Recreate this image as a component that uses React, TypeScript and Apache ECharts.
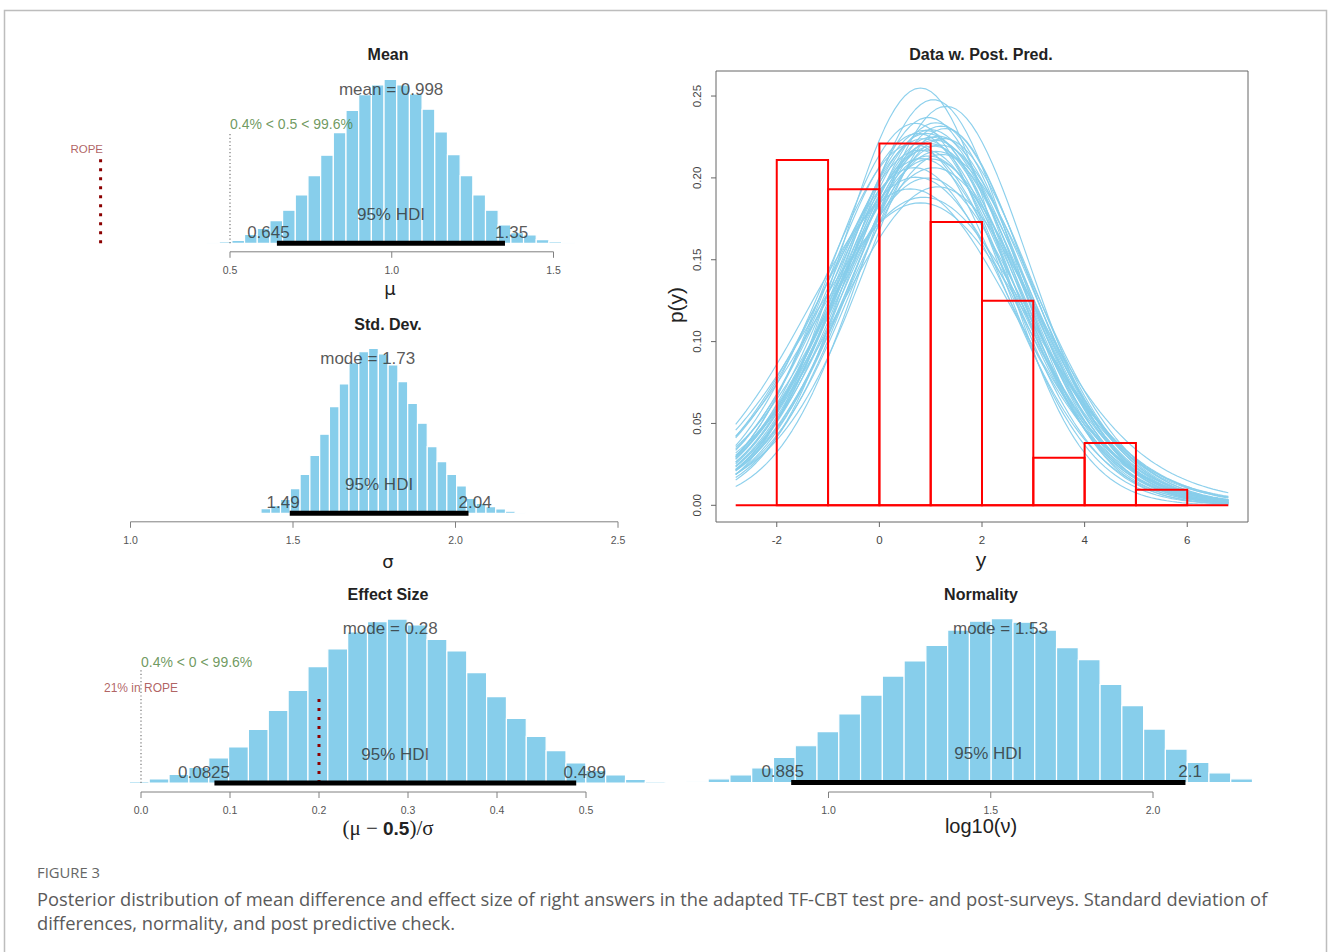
import React, { useEffect, useRef } from "react";
import * as echarts from "echarts";

// ---------------- DATA ----------------
// Mean panel (mu)
const meanBinStart = 0.4274;
const meanBinWidth = 0.0392;
const meanDensity = [0.009, 0.022, 0.04, 0.121, 0.201, 0.304, 0.443, 0.648, 0.908, 1.181, 1.485, 1.784, 1.995, 2.124, 2.2, 2.124, 2.003, 1.798, 1.494, 1.19, 0.908, 0.648, 0.443, 0.246, 0.143, 0.112, 0.049, 0.022, 0.009];
const meanHDI = [0.645, 1.35];
const meanHDILabels = ["0.645", "1.35"];
const meanCentral = 0.998;
const meanCentralLabel = "mean = 0.998";
const meanCompVal = 0.5;
const meanCompHeight = 1.49;
const meanCompLabel = "0.4% < 0.5 < 99.6%";
const meanRopeLine = 0.1;
const meanRopeHeight = 1.15;
const meanRopeTextX = 0.057;
const meanRopeLabel = "ROPE";
const meanTicks = [0.5, 1.0, 1.5];

// Std. Dev. panel (sigma)
const sdBinStart = 1.3713;
const sdBinWidth = 0.0301;
const sdDensity = [0.017, 0.081, 0.132, 0.242, 0.426, 0.674, 1.002, 1.365, 1.843, 2.234, 2.603, 2.793, 2.85, 2.752, 2.562, 2.274, 1.9, 1.555, 1.152, 0.892, 0.674, 0.472, 0.259, 0.173, 0.115, 0.075, 0.035, 0.017];
const sdHDI = [1.49, 2.04];
const sdHDILabels = ["1.49", "2.04"];
const sdMode = 1.73;
const sdModeLabel = "mode = 1.73";
const sdTicks = [1.0, 1.5, 2.0, 2.5];

// Effect size panel
const esBinStart = -0.0354;
const esBinWidth = 0.0223;
const esDensity = [0.016, 0.039, 0.094, 0.203, 0.367, 0.585, 0.843, 1.257, 1.701, 2.17, 2.724, 3.138, 3.536, 3.778, 3.84, 3.7, 3.364, 3.091, 2.583, 2.021, 1.514, 1.093, 0.757, 0.468, 0.297, 0.187, 0.086, 0.031];
const esHDI = [0.0825, 0.489];
const esHDILabels = ["0.0825", "0.489"];
const esMode = 0.28;
const esModeLabel = "mode = 0.28";
const esCompVal = 0;
const esCompHeight = 2.65;
const esCompLabel = "0.4% < 0 < 99.6%";
const esRopeLine = 0.2;
const esRopeHeight = 1.97;
const esRopeTextX = 0.0;
const esRopeLabel = "21% in ROPE";
const esTicks = [0.0, 0.1, 0.2, 0.3, 0.4, 0.5];

// Normality panel (log10 nu)
const nuBinStart = 0.562;
const nuBinWidth = 0.0671;
const nuDensity = [0.005, 0.029, 0.06, 0.115, 0.198, 0.289, 0.401, 0.539, 0.688, 0.837, 0.956, 1.079, 1.199, 1.269, 1.29, 1.261, 1.199, 1.061, 0.967, 0.771, 0.605, 0.42, 0.263, 0.159, 0.076, 0.029];
const nuHDI = [0.885, 2.1];
const nuHDILabels = ["0.885", "2.1"];
const nuMode = 1.53;
const nuModeLabel = "mode = 1.53";
const nuTicks = [1.0, 1.5, 2.0];

// Data w. Post. Pred. panel
const dataBinEdges = [-2, -1, 0, 1, 2, 3, 4, 5, 6];
const dataDensity = [0.211, 0.193, 0.221, 0.173, 0.125, 0.029, 0.038, 0.0095];
const dataRange = [-2.8, 6.8];
const ppMu = [0.8, 1.05, 1.3, 0.95, 1.1, 0.7, 1.2, 0.88, 1.0, 0.92, 1.15, 0.75, 1.02, 1.25, 0.85, 0.98, 1.08, 0.65, 1.18, 0.9, 1.04, 0.78, 1.12, 0.96, 1.22, 0.82, 1.0, 0.68, 1.06, 0.94, 0.72, 1.14, 0.6, 0.86, 0.8, 1.28];
const ppSigma = [1.56, 1.6, 1.63, 1.67, 1.69, 1.7, 1.71, 1.72, 1.73, 1.74, 1.74, 1.75, 1.76, 1.76, 1.77, 1.78, 1.78, 1.79, 1.8, 1.8, 1.81, 1.82, 1.83, 1.84, 1.85, 1.86, 1.88, 1.9, 1.92, 1.95, 1.98, 2.0, 2.05, 2.1, 2.15, 1.68];
const ppNu = [80, 40, 60, 30, 25, 45, 35, 20, 50, 28, 15, 70, 32, 22, 40, 18, 55, 26, 36, 12, 65, 24, 30, 16, 42, 20, 90, 14, 33, 11, 48, 10, 38, 27, 60, 8];
const ppXTicks = [-2, 0, 2, 4, 6];
const ppYTicks = [0, 0.05, 0.1, 0.15, 0.2, 0.25];

const captionLabel = "FIGURE 3";
const captionLine1 = "Posterior distribution of mean difference and effect size of right answers in the adapted TF-CBT test pre- and post-surveys. Standard deviation of";
const captionLine2 = "differences, normality, and post predictive check.";

// ---------------- STYLE / LAYOUT ----------------
const FONT = '"Liberation Sans", Arial, sans-serif';
const SKY = "#87CEEB";
const TXT = "#2e2e2e";
const GREEN = "#4b8036";
const ROPE_TXT = "#9c3a3a";
const ROPE_LINE = "#8B0000";

type Geom = { x0Val: number; x0Px: number; pxPerX: number; xMin: number; xMax: number; basePx: number; pxPerY: number; yMax: number };
const meanGeom: Geom = { x0Val: 0.5, x0Px: 230, pxPerX: 323.5, xMin: 0.0, xMax: 1.62, basePx: 243.3, pxPerY: 74.55, yMax: 2.4 };
const sdGeom: Geom = { x0Val: 1.5, x0Px: 293, pxPerX: 325, xMin: 0.95, xMax: 2.55, basePx: 513.3, pxPerY: 57.9, yMax: 3.1 };
const esGeom: Geom = { x0Val: 0, x0Px: 141, pxPerX: 890, xMin: -0.06, xMax: 0.6, basePx: 783, pxPerY: 42.7, yMax: 4.2 };
const nuGeom: Geom = { x0Val: 1.0, x0Px: 828.5, pxPerX: 324.5, xMin: 0.5, xMax: 2.35, basePx: 782.5, pxPerY: 127.1, yMax: 1.4 };
const ppBox = { left: 716, top: 71, width: 532, height: 451, xMin: -3.184, xMax: 7.184, yMin: -0.0102, yMax: 0.2653 };

function measure(text: string, size: number, family: string, weight = "normal") {
  const c = document.createElement("canvas").getContext("2d")!;
  c.font = `${weight} ${size}px ${family}`;
  return c.measureText(text).width;
}

function gridOf(g: Geom) {
  return {
    left: g.x0Px + (g.xMin - g.x0Val) * g.pxPerX,
    width: (g.xMax - g.xMin) * g.pxPerX,
    top: g.basePx - g.yMax * g.pxPerY,
    height: g.yMax * g.pxPerY,
    show: false,
    containLabel: false,
    outerBoundsMode: "none",
  };
}

function histSeries(gi: number, start: number, width: number, dens: number[]) {
  return {
    type: "custom",
    xAxisIndex: gi,
    yAxisIndex: gi,
    silent: true,
    clip: false,
    z: 2,
    data: dens.map((d, i) => [start + i * width, start + (i + 1) * width, d]),
    encode: { x: [0, 1], y: 2 },
    renderItem: (_p: any, api: any) => {
      const a = api.coord([api.value(0), api.value(2)]);
      const b = api.coord([api.value(1), 0]);
      return {
        type: "rect",
        shape: { x: a[0], y: a[1], width: b[0] - a[0], height: b[1] - a[1] },
        style: { fill: SKY, stroke: "#ffffff", lineWidth: 1.2 },
      };
    },
  };
}

function segSeries(gi: number, pts: number[][], color: string, width: number, type: any, z = 4) {
  return {
    type: "line",
    xAxisIndex: gi,
    yAxisIndex: gi,
    data: pts,
    symbol: "none",
    clip: false,
    silent: true,
    z,
    lineStyle: { color, width, type, cap: "butt" },
  };
}

type Lbl = { x: number; y: number; text: string; dx?: number; dy?: number; color?: string; size?: number; align?: string };
function labelSeries(gi: number, items: Lbl[]) {
  return {
    type: "scatter",
    xAxisIndex: gi,
    yAxisIndex: gi,
    symbolSize: 1,
    silent: true,
    z: 6,
    itemStyle: { color: "rgba(0,0,0,0)" },
    data: items.map((it) => ({
      value: [it.x, it.y],
      label: {
        show: true,
        position: "inside",
        formatter: it.text,
        offset: [it.dx || 0, it.dy || 0],
        color: it.color || TXT,
        fontSize: it.size || 17,
        fontFamily: FONT,
        align: it.align || "center",
        verticalAlign: "middle",
      },
    })),
  };
}

function hdiLabels(hdi: number[], labels: string[], centralX: number, centralLabel: string, peak: number): Lbl[] {
  const s = 17;
  const w0 = measure(labels[0], s, FONT);
  const w1 = measure(labels[1], s, FONT);
  return [
    { x: hdi[0], y: 0, text: labels[0], dx: -0.2 * w0, dy: -11, size: s },
    { x: hdi[1], y: 0, text: labels[1], dx: 0.2 * w1, dy: -11, size: s },
    { x: (hdi[0] + hdi[1]) / 2, y: 0, text: "95% HDI", dy: -29, size: 17 },
    { x: centralX, y: 0.9 * peak, text: centralLabel, dy: -6.5, size: 17 },
  ];
}

function rAxisBottom(gi: number, ticks: number[], dec: number, o: any) {
  return {
    type: "custom",
    xAxisIndex: gi,
    yAxisIndex: gi,
    silent: true,
    clip: false,
    z: 3,
    data: ticks.map((t) => [t, o.yRef]),
    encode: { x: 0, y: 1 },
    renderItem: (params: any, api: any) => {
      const v = api.value(0);
      const p = api.coord([v, api.value(1)]);
      const y0 = p[1] + o.offset;
      const ch: any[] = [
        { type: "line", shape: { x1: p[0], y1: y0, x2: p[0], y2: y0 + o.tickLen }, style: { stroke: o.color, lineWidth: 1 } },
        {
          type: "text",
          x: p[0],
          y: y0 + o.labelDy,
          style: { text: v.toFixed(dec), align: "center", verticalAlign: "middle", textAlign: "center", textVerticalAlign: "middle", fill: o.labelColor, fontSize: o.fontSize, fontFamily: FONT },
        },
      ];
      if (o.line && params.dataIndex === 0) {
        const q = api.coord([ticks[ticks.length - 1], api.value(1)]);
        ch.push({ type: "line", shape: { x1: p[0], y1: y0, x2: q[0], y2: y0 }, style: { stroke: o.color, lineWidth: 1 } });
      }
      return { type: "group", children: ch };
    },
  };
}

function rAxisLeft(gi: number, ticks: number[], dec: number, o: any) {
  return {
    type: "custom",
    xAxisIndex: gi,
    yAxisIndex: gi,
    silent: true,
    clip: false,
    z: 3,
    data: ticks.map((t) => [o.xRef, t]),
    encode: { x: 0, y: 1 },
    renderItem: (_params: any, api: any) => {
      const v = api.value(1);
      const p = api.coord([api.value(0), v]);
      return {
        type: "group",
        children: [
          { type: "line", shape: { x1: p[0], y1: p[1], x2: p[0] - o.tickLen, y2: p[1] }, style: { stroke: o.color, lineWidth: 1 } },
          {
            type: "text",
            x: p[0] - o.labelDx,
            y: p[1],
            rotation: Math.PI / 2,
            style: { text: v.toFixed(dec), align: "center", verticalAlign: "middle", textAlign: "center", textVerticalAlign: "middle", fill: o.labelColor, fontSize: o.fontSize, fontFamily: FONT },
          },
        ],
      };
    },
  };
}

function lgamma(z: number): number {
  const c = [0.99999999999980993, 676.5203681218851, -1259.1392167224028, 771.32342877765313, -176.61502916214059, 12.507343278686905, -0.13857109526572012, 9.9843695780195716e-6, 1.5056327351493116e-7];
  if (z < 0.5) return Math.log(Math.PI / Math.sin(Math.PI * z)) - lgamma(1 - z);
  z -= 1;
  let x = c[0];
  for (let i = 1; i < 9; i++) x += c[i] / (z + i);
  const t = z + 7.5;
  return 0.5 * Math.log(2 * Math.PI) + (z + 0.5) * Math.log(t) - t + Math.log(x);
}
function dt(x: number, mu: number, sigma: number, nu: number) {
  const z = (x - mu) / sigma;
  return Math.exp(lgamma((nu + 1) / 2) - lgamma(nu / 2) - 0.5 * Math.log(nu * Math.PI) - Math.log(sigma) - ((nu + 1) / 2) * Math.log(1 + (z * z) / nu));
}

function buildOption() {
  const geoms = [meanGeom, sdGeom, esGeom, nuGeom];
  const grids: any[] = geoms.map(gridOf);
  grids.push({ left: ppBox.left, top: ppBox.top, width: ppBox.width, height: ppBox.height, show: true, borderColor: "#666", borderWidth: 1, backgroundColor: "transparent", containLabel: false, outerBoundsMode: "none" });
  const xAxes: any[] = geoms.map((g, i) => ({ gridIndex: i, type: "value", min: g.xMin, max: g.xMax, show: false }));
  const yAxes: any[] = geoms.map((g, i) => ({ gridIndex: i, type: "value", min: 0, max: g.yMax, show: false }));
  xAxes.push({ gridIndex: 4, type: "value", min: ppBox.xMin, max: ppBox.xMax, show: false });
  yAxes.push({ gridIndex: 4, type: "value", min: ppBox.yMin, max: ppBox.yMax, show: false });

  const axisOpt = { yRef: 0, offset: 8.5, tickLen: 6, labelDy: 18, color: "#808080", labelColor: "#555", fontSize: 10.5, line: true };
  const dotRope: any = [3, 6];
  const dotGray: any = [1.2, 2.4];

  const series: any[] = [];
  // Mean
  series.push(histSeries(0, meanBinStart, meanBinWidth, meanDensity));
  series.push(segSeries(0, [[meanHDI[0], 0], [meanHDI[1], 0]], "#000", 5, "solid", 5));
  series.push(segSeries(0, [[meanCompVal, 0], [meanCompVal, meanCompHeight]], "#777", 1.2, dotGray));
  series.push(segSeries(0, [[meanRopeLine, 0], [meanRopeLine, meanRopeHeight]], ROPE_LINE, 3, dotRope));
  series.push(labelSeries(0, [
    ...hdiLabels(meanHDI, meanHDILabels, meanCentral, meanCentralLabel, Math.max(...meanDensity)),
    { x: meanCompVal, y: meanCompHeight, text: meanCompLabel, dy: -8, size: 14, color: GREEN, align: "left" },
    { x: meanRopeTextX, y: meanRopeHeight, text: meanRopeLabel, dy: -8.5, size: 11.5, color: ROPE_TXT },
  ]));
  series.push(rAxisBottom(0, meanTicks, 1, axisOpt));
  // Std Dev
  series.push(histSeries(1, sdBinStart, sdBinWidth, sdDensity));
  series.push(segSeries(1, [[sdHDI[0], 0], [sdHDI[1], 0]], "#000", 5, "solid", 5));
  series.push(labelSeries(1, hdiLabels(sdHDI, sdHDILabels, sdMode, sdModeLabel, Math.max(...sdDensity))));
  series.push(rAxisBottom(1, sdTicks, 1, axisOpt));
  // Effect size
  series.push(histSeries(2, esBinStart, esBinWidth, esDensity));
  series.push(segSeries(2, [[esHDI[0], 0], [esHDI[1], 0]], "#000", 5, "solid", 5));
  series.push(segSeries(2, [[esCompVal, 0], [esCompVal, esCompHeight]], "#777", 1.2, dotGray));
  series.push(segSeries(2, [[esRopeLine, 0], [esRopeLine, esRopeHeight]], ROPE_LINE, 3, dotRope));
  series.push(labelSeries(2, [
    ...hdiLabels(esHDI, esHDILabels, esMode, esModeLabel, Math.max(...esDensity)),
    { x: esCompVal, y: esCompHeight, text: esCompLabel, dy: -8, size: 14, color: GREEN, align: "left" },
    { x: esRopeTextX, y: esRopeHeight, text: esRopeLabel, dy: -11, size: 12, color: ROPE_TXT },
  ]));
  series.push(rAxisBottom(2, esTicks, 1, { ...axisOpt, offset: 9 }));
  // Normality
  series.push(histSeries(3, nuBinStart, nuBinWidth, nuDensity));
  series.push(segSeries(3, [[nuHDI[0], 0], [nuHDI[1], 0]], "#000", 5, "solid", 5));
  series.push(labelSeries(3, hdiLabels(nuHDI, nuHDILabels, nuMode, nuModeLabel, Math.max(...nuDensity))));
  series.push(rAxisBottom(3, nuTicks, 1, { ...axisOpt, offset: 9.5 }));

  // Posterior predictive curves
  const xs: number[] = [];
  for (let k = 0; k <= Math.round((dataRange[1] - dataRange[0]) / 0.1); k++) xs.push(+(dataRange[0] + k * 0.1).toFixed(2));
  ppMu.forEach((mu, k) => {
    series.push({
      type: "line",
      xAxisIndex: 4,
      yAxisIndex: 4,
      data: xs.map((x) => [x, dt(x, mu, ppSigma[k], ppNu[k])]),
      symbol: "none",
      silent: true,
      z: 2,
      lineStyle: { color: SKY, width: 1.15, opacity: 0.95 },
    });
  });
  // Data histogram (red outline)
  series.push({
    type: "custom",
    xAxisIndex: 4,
    yAxisIndex: 4,
    silent: true,
    z: 4,
    data: dataDensity.map((d, i) => [dataBinEdges[i], dataBinEdges[i + 1], d]),
    encode: { x: [0, 1], y: 2 },
    renderItem: (_p: any, api: any) => {
      const a = api.coord([api.value(0), api.value(2)]);
      const b = api.coord([api.value(1), 0]);
      return { type: "rect", shape: { x: a[0], y: a[1], width: b[0] - a[0], height: b[1] - a[1] }, style: { fill: "none", stroke: "#ff0000", lineWidth: 2 } };
    },
  });
  series.push(segSeries(4, [[dataRange[0], 0], [dataRange[1], 0]], "#ff0000", 2, "solid", 4));
  series.push(rAxisBottom(4, ppXTicks, 0, { yRef: ppBox.yMin, offset: 0, tickLen: 5, labelDy: 18, color: "#666", labelColor: "#444", fontSize: 11.5, line: false }));
  series.push(rAxisLeft(4, ppYTicks, 2, { xRef: ppBox.xMin, tickLen: 5, labelDx: 19, color: "#666", labelColor: "#444", fontSize: 11.5 }));

  // Graphic texts
  const capFam = '"Open Sans", "Noto Sans", sans-serif';
  const capSize = Math.min(20, Math.max(12, (16 * 1231) / measure(captionLine1, 16, capFam)));
  const figSize = Math.min(16, Math.max(10, (13 * 63) / measure(captionLabel, 13, capFam)));
  const title = (text: string, x: number, y: number) => ({
    type: "text", x, y, silent: true,
    style: { text, fill: "#222", fontSize: 16, fontWeight: "bold", fontFamily: FONT, align: "center", verticalAlign: "middle", textAlign: "center", textVerticalAlign: "middle" },
  });
  const axName = (text: string, x: number, y: number, size: number, fam = FONT, rot = 0) => ({
    type: "text", x, y, rotation: rot, silent: true,
    style: { text, fill: "#222", fontSize: size, fontFamily: fam, align: "center", verticalAlign: "middle", textAlign: "center", textVerticalAlign: "middle" },
  });

  const graphic: any[] = [
    { type: "rect", silent: true, shape: { x: 4.5, y: 10.5, width: 1322, height: 960 }, style: { fill: "none", stroke: "#bdbdbd", lineWidth: 1.5 } },
    title("Mean", 388, 54),
    title("Std. Dev.", 388, 324),
    title("Effect Size", 388, 594),
    title("Normality", 981, 594),
    title("Data w. Post. Pred.", 981, 54),
    axName("μ", 390, 288, 18, '"DejaVu Sans", sans-serif'),
    axName("σ", 388, 561, 18, '"DejaVu Sans", sans-serif'),
    {
      type: "text", x: 388, y: 828, silent: true,
      style: {
        text: "{a|(μ − }{b|0.5}{a|)/σ}",
        align: "center", verticalAlign: "middle", textAlign: "center", textVerticalAlign: "middle",
        rich: {
          a: { fontSize: 21, fontFamily: '"Liberation Serif", serif', fill: "#222" },
          b: { fontSize: 19, fontFamily: FONT, fontWeight: "bold", fill: "#222" },
        },
      },
    },
    axName("log10(ν)", 981, 826, 20),
    axName("y", 981, 559, 21),
    axName("p(y)", 675, 305, 21, FONT, Math.PI / 2),
    {
      type: "text", x: 37, y: 872, silent: true,
      style: { text: captionLabel, fill: "#666", fontSize: figSize, fontFamily: capFam, align: "left", verticalAlign: "middle", textAlign: "left", textVerticalAlign: "middle" },
    },
    {
      type: "text", x: 37, y: 898, silent: true,
      style: { text: captionLine1, fill: "#5a5a5a", fontSize: capSize, fontFamily: capFam, align: "left", verticalAlign: "middle", textAlign: "left", textVerticalAlign: "middle" },
    },
    {
      type: "text", x: 37, y: 922, silent: true,
      style: { text: captionLine2, fill: "#5a5a5a", fontSize: capSize, fontFamily: capFam, align: "left", verticalAlign: "middle", textAlign: "left", textVerticalAlign: "middle" },
    },
  ];

  return {
    animation: false,
    backgroundColor: "#ffffff",
    grid: grids,
    xAxis: xAxes,
    yAxis: yAxes,
    series,
    graphic,
  };
}

export default function App() {
  const ref = useRef<HTMLDivElement>(null);
  useEffect(() => {
    if (!ref.current) return;
    const chart = echarts.init(ref.current, null, { renderer: "svg", width: 1328, height: 952 });
    chart.setOption(buildOption() as any);
    return () => chart.dispose();
  }, []);
  return <div ref={ref} style={{ position: "fixed", left: 0, top: 0, width: 1328, height: 952, background: "#fff" }} />;
}
